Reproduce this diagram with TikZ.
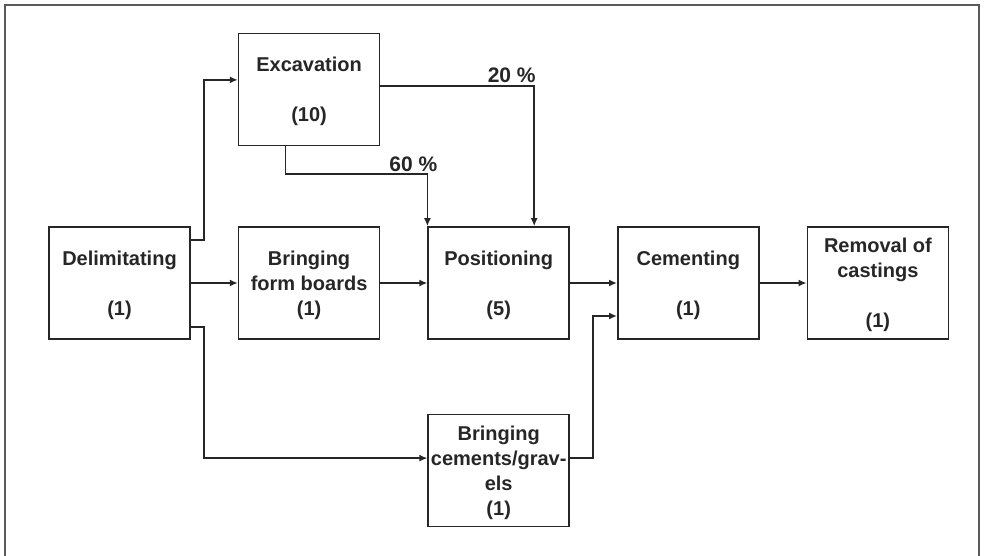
\documentclass[tikz,border=0pt]{standalone}
\usepackage{fontspec}
\setmainfont{Liberation Sans}
\usetikzlibrary{positioning,arrows.meta}

\begin{document}
\begin{tikzpicture}[x=0.5pt, y=-0.5pt, node distance=23.5pt]
\tikzstyle{task}  = [rectangle, draw=black!85, line width=0.8pt, minimum width=70.5pt, minimum height=56pt, inner sep=0pt, text depth=-5.5pt, align=center, text=black!85, font=\fontsize{10}{12.5}\selectfont\bfseries]
\tikzstyle{arrow} = [draw=black!85, line width=0.8pt, -{Latex[length=4pt,width=3.5pt]}]
\tikzstyle{share} = [anchor=south, inner sep=1pt, text=black!85, font=\fontsize{10.5}{12}\selectfont\bfseries]

\useasboundingbox (0,0) rectangle (990,556);
\draw [black!65, line width=0.8pt] (5,556) -- (5,5) -- (979,5) -- (979,556);

\node (delim)    [task] at (119.5,283)          {Delimitating\\[12.5pt](1)};
\node (boards)   [task, right=of delim]         {Bringing\\form boards\\(1)};
\node (position) [task, right=of boards]        {Positioning\\[12.5pt](5)};
\node (cement)   [task, right=of position]      {Cementing\\[12.5pt](1)};
\node (removal)  [task, right=of cement]        {Removal of\\castings\\[12.5pt](1)};
\node (excav)    [task, above=40pt of boards]   {Excavation\\[12.5pt](10)};
\node (gravels)  [task, below=37pt of position] {Bringing\\cements/grav-\\els\\(1)};

\draw [arrow] ([yshift=21.5pt]delim.east) -- ++(6.5pt,0) |- ([yshift=4.75pt]excav.west);
\draw [arrow] (delim)    -- (boards);
\draw [arrow] ([yshift=-22pt]delim.east) -- ++(6.5pt,0) |- ([yshift=6.25pt]gravels.west);
\draw [arrow] (boards)   -- (position);
\draw [arrow] ([yshift=1.75pt]excav.east) -| node [share, pos=0.5, xshift=-11.25pt] {20 \%} ([xshift=17.75pt]position.north);
\draw [arrow] ([xshift=-11.75pt]excav.south) -- ++(0,-14pt) -| node [share, pos=0.5, xshift=-7pt] {60 \%} (position.north west);
\draw [arrow] (position) -- (cement);
\draw [arrow] ([yshift=6.25pt]gravels.east) -- ++(11.5pt,0) |- ([yshift=-16.5pt]cement.west);
\draw [arrow] (cement)   -- (removal);
\end{tikzpicture}
\end{document}
